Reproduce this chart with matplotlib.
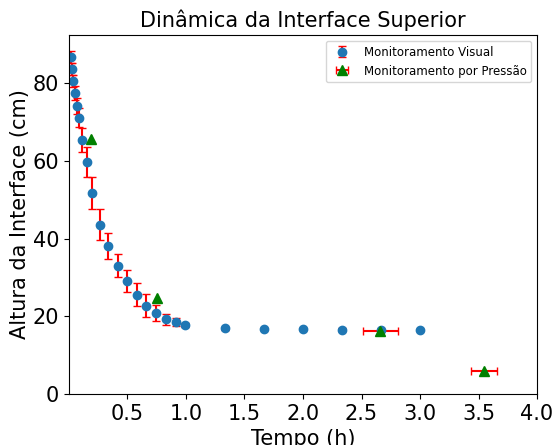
import numpy as np
import matplotlib.pyplot as plt

# monitoramento visual
t_visual = [0.014, 0.022, 0.036, 0.053, 0.067, 0.082, 0.113, 0.150, 0.198, 0.266,
            0.332, 0.415, 0.497, 0.579, 0.662, 0.747, 0.829, 0.911, 0.995,
            1.333, 1.667, 2.000, 2.333, 2.667, 3.000]
h_visual = [86.8, 83.6, 80.6, 77.6, 74.2, 71.1, 65.4, 59.7, 51.7, 43.6,
            38.1, 33.0, 29.1, 25.6, 22.7, 20.9, 19.2, 18.5, 17.8,
            16.9, 16.8, 16.7, 16.6, 16.5, 16.5]
err_visual = [1.5, 1.5, 1.5, 1.8, 2.0, 2.5, 3.1, 3.8, 4.2, 4.0,
              3.3, 3.0, 2.8, 3.0, 3.0, 2.0, 1.4, 1.0, 0.6,
              0.3, 0.3, 0.3, 0.3, 0.3, 0.3]

# monitoramento por pressao
t_pressao = [0.187, 0.756, 2.66, 3.55]
h_pressao = [65.7, 24.8, 16.2, 6.0]
err_pressao = [0.0, 0.0, 0.15, 0.11]

fig = plt.figure(figsize=(5.55, 4.45), dpi=100)
ax = fig.add_axes([0.1243, 0.1146, 0.8433, 0.8067])

ax.errorbar(t_visual, h_visual, yerr=err_visual, fmt='o', color='tab:blue',
            ecolor='red', elinewidth=1.5, capsize=3, markersize=6,
            label='Monitoramento Visual')
ax.errorbar(t_pressao, h_pressao, xerr=err_pressao, fmt='^', color='green',
            ecolor='red', elinewidth=1.5, capsize=3, markersize=6.5,
            label='Monitoramento por Pressão')

ax.set_xlim(0, 4.0)
ax.set_ylim(0, 92.4)
ax.set_xticks(np.arange(0.5, 4.01, 0.5))
ax.tick_params(labelsize=15)
ax.set_title('Dinâmica da Interface Superior', fontsize=15)
ax.set_xlabel('Tempo (h)', fontsize=15)
ax.set_ylabel('Altura da Interface (cm)', fontsize=15, labelpad=2)
ax.legend(loc='upper right', fontsize=8.5)

plt.savefig('out.png', dpi=100)
plt.close()
